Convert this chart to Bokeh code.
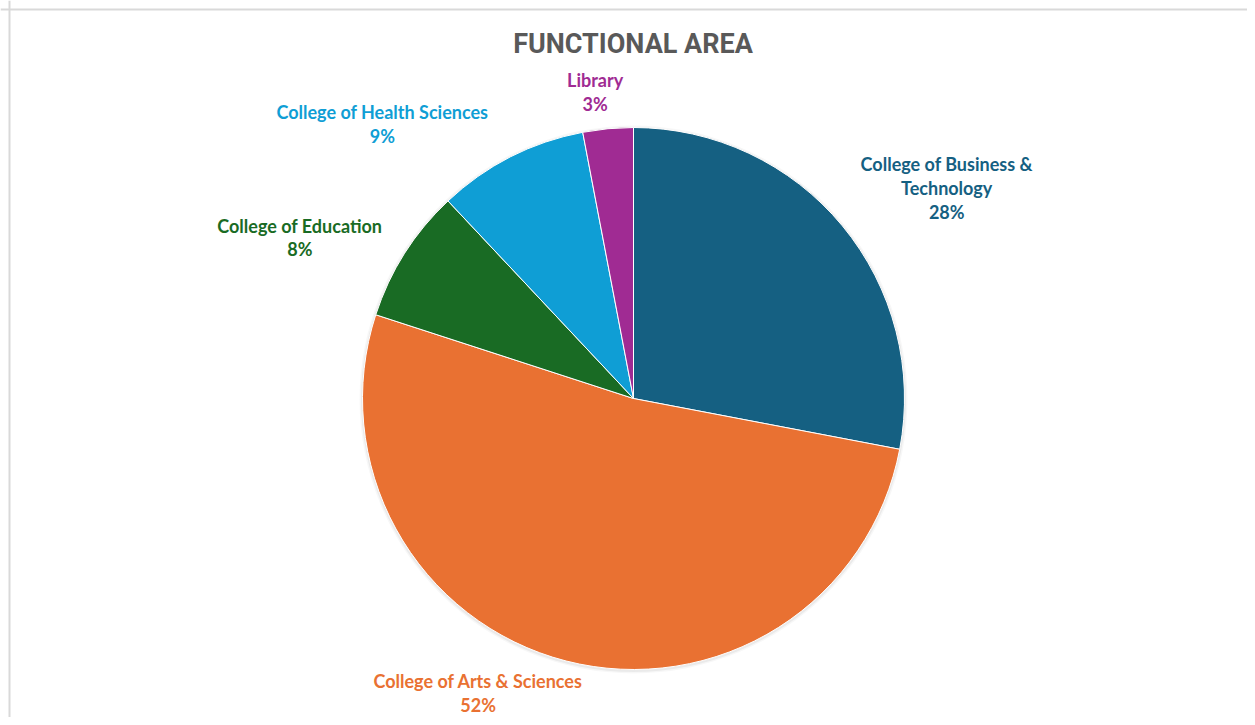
import math
from bokeh.plotting import figure
from bokeh.models import ColumnDataSource, Range1d, Span, Label
from bokeh.core.properties import value
from bokeh.embed import file_html
from bokeh.resources import INLINE

# ---- data ----
categories = ["College of Business &\nTechnology", "College of Arts & Sciences",
              "College of Education", "College of Health Sciences", "Library"]
shares = [28, 52, 8, 9, 3]
colors = ["#156082", "#E97132", "#196B24", "#0F9ED5", "#A02B93"]
title_text = "FUNCTIONAL AREA"

# ---- layout / style ----
W, H = 1247, 717
CX, CY = 633, H - 398      # pie centre in plot coordinates
R = 271
LABEL_GAP = 20
# per-label nudges (pixels, screen orientation: +x right, +y down)
label_nudge = [(89, -25), (-83, 13), (-88, -5), (-119, -15), (-11, -17)]

total = float(sum(shares))
start, end, mids = [], [], []
acc = 0.0
for v in shares:
    a0 = math.pi / 2 - 2 * math.pi * acc / total
    acc += v
    a1 = math.pi / 2 - 2 * math.pi * acc / total
    start.append(a0)
    end.append(a1)
    mids.append((a0 + a1) / 2)

lx, ly, ltext = [], [], []
for cat, v, m, (dx, dy) in zip(categories, shares, mids, label_nudge):
    lx.append(CX + (R + LABEL_GAP) * math.cos(m) + dx)
    ly.append(CY + (R + LABEL_GAP) * math.sin(m) - dy)
    ltext.append(f"{cat}\n{v}%")

src = ColumnDataSource(dict(start=start, end=end, color=colors,
                            x=[CX] * len(shares), y=[CY] * len(shares)))
lsrc = ColumnDataSource(dict(x=lx, y=ly, text=ltext, color=colors))

p = figure(width=W, height=H, output_backend="svg", toolbar_location=None,
           x_range=Range1d(0, W), y_range=Range1d(0, H),
           x_axis_type=None, y_axis_type=None, min_border=0,
           match_aspect=False)
p.grid.visible = False
p.outline_line_color = None
p.background_fill_color = "white"
p.border_fill_color = "white"

# chart border (top & left visible; right & bottom lie outside the crop)
p.add_layout(Span(location=9, dimension="height", line_color="#D9D9D9", line_width=2))
p.add_layout(Span(location=H - 9, dimension="width", line_color="#D9D9D9", line_width=2))

# soft shadow
p.circle(x=[CX], y=[CY - 1], radius=R + 3, fill_color="black", fill_alpha=0.03, line_color=None)
p.circle(x=[CX], y=[CY - 1], radius=R + 1.5, fill_color="black", fill_alpha=0.05, line_color=None)

p.wedge(x="x", y="y", radius=R, start_angle="start", end_angle="end",
        direction="clock", fill_color="color", line_color="white", line_width=1,
        source=src)

p.text(x="x", y="y", text="text", text_color="color", source=lsrc,
       text_font=value("Lato"), text_font_style="bold", text_font_size="18px",
       text_align="center", text_baseline="middle", text_line_height=1.08)

p.add_layout(Label(x=632.5, y=H - 43, text=title_text, text_font="Roboto",
                   text_font_style="bold", text_font_size="27px", text_color="#595959",
                   text_align="center", text_baseline="middle"))

open("out.html", "w").write(file_html(p, INLINE))
